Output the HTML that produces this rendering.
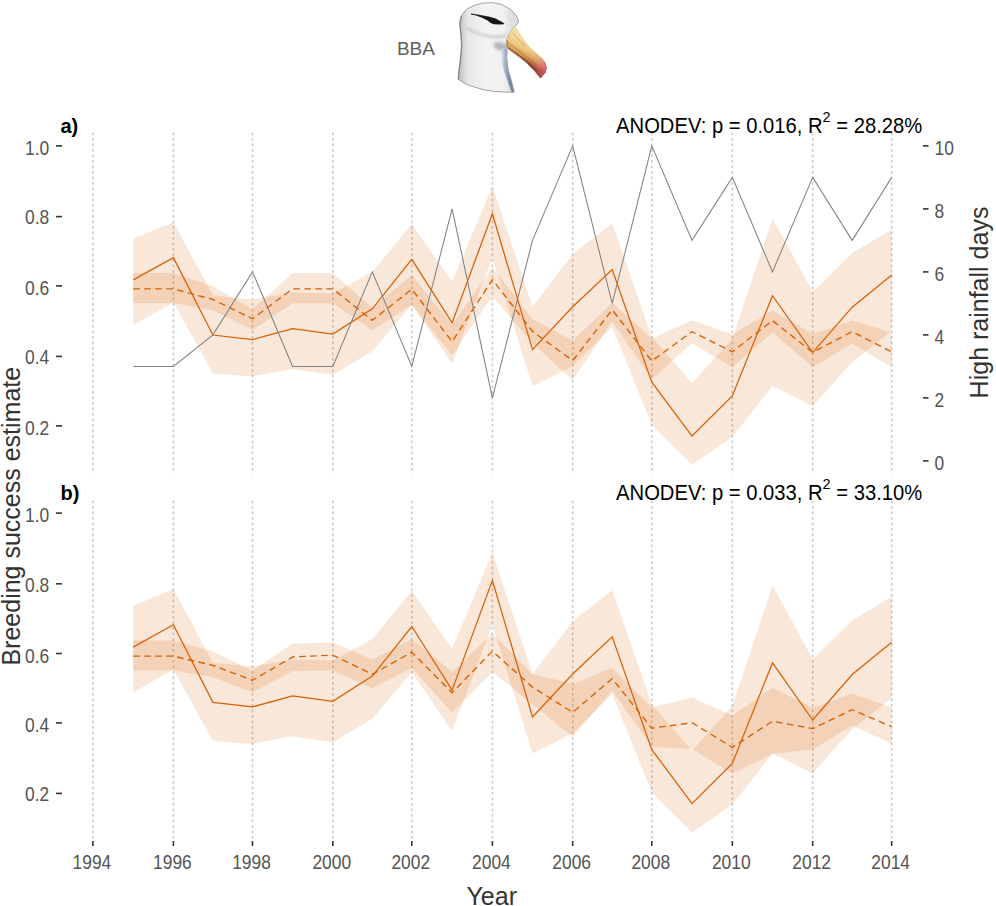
<!DOCTYPE html>
<html><head><meta charset="utf-8"><style>
html,body{margin:0;padding:0;background:#fff;overflow:hidden;width:996px;height:906px;}
svg{display:block;font-family:"Liberation Sans",sans-serif;}
</style></head><body>
<svg width="996" height="906" viewBox="0 0 996 906">
<g stroke="#cbcbcb" stroke-width="1.6" stroke-dasharray="2.7,2.8"><line x1="92.9" y1="132.6" x2="92.9" y2="474"/><line x1="173.4" y1="132.6" x2="173.4" y2="474"/><line x1="252.5" y1="132.6" x2="252.5" y2="474"/><line x1="332.8" y1="132.6" x2="332.8" y2="474"/><line x1="411.8" y1="132.6" x2="411.8" y2="474"/><line x1="492.4" y1="132.6" x2="492.4" y2="474"/><line x1="572.7" y1="132.6" x2="572.7" y2="474"/><line x1="651.8" y1="132.6" x2="651.8" y2="474"/><line x1="732.3" y1="132.6" x2="732.3" y2="474"/><line x1="812.7" y1="132.6" x2="812.7" y2="474"/><line x1="891.7" y1="132.6" x2="891.7" y2="474"/></g>
<g stroke="#cbcbcb" stroke-width="1.6" stroke-dasharray="2.7,2.8"><line x1="92.9" y1="500.5" x2="92.9" y2="841"/><line x1="173.4" y1="500.5" x2="173.4" y2="841"/><line x1="252.5" y1="500.5" x2="252.5" y2="841"/><line x1="332.8" y1="500.5" x2="332.8" y2="841"/><line x1="411.8" y1="500.5" x2="411.8" y2="841"/><line x1="492.4" y1="500.5" x2="492.4" y2="841"/><line x1="572.7" y1="500.5" x2="572.7" y2="841"/><line x1="651.8" y1="500.5" x2="651.8" y2="841"/><line x1="732.3" y1="500.5" x2="732.3" y2="841"/><line x1="812.7" y1="500.5" x2="812.7" y2="841"/><line x1="891.7" y1="500.5" x2="891.7" y2="841"/></g>
<polygon points="133.2,238.8 173.4,221.9 212.9,295.6 252.5,299.4 292.6,292.4 332.8,293.4 372.3,271.7 411.8,224.1 452.1,281.6 492.4,186.6 532.5,306.6 572.7,254.1 612.2,223.2 651.8,337 692,383.3 732.3,338.5 772.5,218.6 812.7,291.8 852.2,253.1 891.7,229.7 891.7,331 852.2,361.9 812.7,406 772.5,386.1 732.3,437 692,464.7 651.8,425 612.2,326.8 572.7,366.2 532.5,386 492.4,257.6 452.1,363.7 411.8,304.7 372.3,351.3 332.8,374.8 292.6,368.9 252.5,376.4 212.9,373.6 173.4,302.3 133.2,325.2" fill="#D95F02" fill-opacity="0.15"/>
<polygon points="133.2,273.1 173.4,273.1 212.9,286.3 252.5,309.3 292.6,273.1 332.8,273.1 372.3,308 411.8,274.9 452.1,325.1 492.4,267.5 532.5,319.2 572.7,340.8 612.2,302.8 651.8,338.6 692,320.2 732.3,334.5 772.5,310.6 812.7,334.1 852.2,320.5 891.7,332.5 891.7,367.3 852.2,343.4 812.7,367.3 772.5,332.5 732.3,367.2 692,343.2 651.8,379.6 612.2,321.4 572.7,380 532.5,343.6 492.4,296.2 452.1,355.5 411.8,304.7 372.3,330.4 332.8,303.3 292.6,303.3 252.5,330.1 212.9,310.3 173.4,302.9 133.2,302.9" fill="#D95F02" fill-opacity="0.15"/>
<polyline points="133.2,279.9 173.4,257.7 212.9,335 252.5,339.5 292.6,328.7 332.8,334.1 372.3,308.8 411.8,259.4 452.1,322.9 492.4,213.8 532.5,349.6 572.7,306.7 612.2,269.6 651.8,382.1 692,436 732.3,396 772.5,295.7 812.7,352.6 852.2,307.2 891.7,275" fill="none" stroke="#D95F02" stroke-width="1.25"/>
<polyline points="133.2,288.8 173.4,288.8 212.9,299.5 252.5,318.8 292.6,288.8 332.8,288.8 372.3,320.4 411.8,289.2 452.1,341.7 492.4,279.6 532.5,331.4 572.7,360.6 612.2,309.8 651.8,361 692,331.7 732.3,351.8 772.5,320.6 812.7,352.3 852.2,331.6 891.7,351.9" fill="none" stroke="#D95F02" stroke-width="1.35" stroke-dasharray="6.6,4.4"/>
<polyline points="133.2,366.4 173.4,366.4 212.9,334.9 252.5,271.9 292.6,366.4 332.8,366.4 372.3,271.9 411.8,366.4 452.1,208.9 492.4,397.9 532.5,240.4 572.7,145.9 612.2,303.4 651.8,145.9 692,240.4 732.3,177.4 772.5,271.9 812.7,177.4 852.2,240.4 891.7,177.4" fill="none" stroke="#828282" stroke-width="1.05"/>
<polygon points="133.2,605.9 173.4,588.9 212.9,662.8 252.5,666.6 292.6,659.6 332.8,660.6 372.3,638.9 411.8,591.1 452.1,648.8 492.4,552.6 532.5,673.9 572.7,621.2 612.2,590.2 651.8,704.3 692,750.8 732.3,705.9 772.5,585.6 812.7,659 852.2,620.2 891.7,596.7 891.7,698.3 852.2,729.3 812.7,773.5 772.5,753.6 732.3,804.6 692,832.4 651.8,792.6 612.2,694.1 572.7,733.6 532.5,753.5 492.4,624.7 452.1,731.1 411.8,672 372.3,718.7 332.8,742.3 292.6,736.3 252.5,743.9 212.9,741.1 173.4,669.5 133.2,692.5" fill="#D95F02" fill-opacity="0.15"/>
<polygon points="133.2,640.2 173.4,640.6 212.9,651.5 252.5,670.4 292.6,643.5 332.8,642.5 372.3,659.4 411.8,639.3 452.1,671.8 492.4,633.3 532.5,674 572.7,684.1 612.2,667.7 651.8,707.4 692,697.4 732.3,715.6 772.5,687.8 812.7,707.7 852.2,693.4 891.7,707.4 891.7,743.8 852.2,725.6 812.7,749.5 772.5,754 732.3,773.6 692,749 651.8,747.1 612.2,690.5 572.7,737 532.5,704 492.4,672 452.1,712.8 411.8,668.1 372.3,688.2 332.8,670.4 292.6,671.3 252.5,692.2 212.9,677.3 173.4,670.4 133.2,670.4" fill="#D95F02" fill-opacity="0.15"/>
<polyline points="133.2,647.1 173.4,624.8 212.9,702.3 252.5,706.9 292.6,696 332.8,701.4 372.3,676.1 411.8,626.5 452.1,690.2 492.4,580.4 532.5,717 572.7,674 612.2,636.8 651.8,749.6 692,803.6 732.3,763.5 772.5,662.9 812.7,720 852.2,674.5 891.7,642.2" fill="none" stroke="#D95F02" stroke-width="1.25"/>
<polyline points="133.2,656.1 173.4,656.1 212.9,665.4 252.5,680.3 292.6,657 332.8,655.1 372.3,674.3 411.8,652.2 452.1,692.7 492.4,651.2 532.5,687.1 572.7,712.4 612.2,678.6 651.8,728.2 692,722.7 732.3,747.3 772.5,721.2 812.7,728.6 852.2,709.7 891.7,726.7" fill="none" stroke="#D95F02" stroke-width="1.35" stroke-dasharray="6.6,4.4"/>
<g font-size="20" fill="#545454">
<line x1="56" y1="145.9" x2="62" y2="145.9" stroke="#333333" stroke-width="1.6"/><text transform="translate(49.2,154.7) scale(0.87,1)" text-anchor="end">1.0</text><line x1="56" y1="216.6" x2="62" y2="216.6" stroke="#333333" stroke-width="1.6"/><text transform="translate(49.2,224) scale(0.87,1)" text-anchor="end">0.8</text><line x1="56" y1="285.9" x2="62" y2="285.9" stroke="#333333" stroke-width="1.6"/><text transform="translate(49.2,294.5) scale(0.87,1)" text-anchor="end">0.6</text><line x1="56" y1="356.4" x2="62" y2="356.4" stroke="#333333" stroke-width="1.6"/><text transform="translate(49.2,364.2) scale(0.87,1)" text-anchor="end">0.4</text><line x1="56" y1="425.9" x2="62" y2="425.9" stroke="#333333" stroke-width="1.6"/><text transform="translate(49.2,434.8) scale(0.87,1)" text-anchor="end">0.2</text>
<line x1="56" y1="513.1" x2="62" y2="513.1" stroke="#333333" stroke-width="1.6"/><text transform="translate(49.2,522.3) scale(0.87,1)" text-anchor="end">1.0</text><line x1="56" y1="583.8" x2="62" y2="583.8" stroke="#333333" stroke-width="1.6"/><text transform="translate(49.2,591.5) scale(0.87,1)" text-anchor="end">0.8</text><line x1="56" y1="653.5" x2="62" y2="653.5" stroke="#333333" stroke-width="1.6"/><text transform="translate(49.2,662.5) scale(0.87,1)" text-anchor="end">0.6</text><line x1="56" y1="722.9" x2="62" y2="722.9" stroke="#333333" stroke-width="1.6"/><text transform="translate(49.2,731.5) scale(0.87,1)" text-anchor="end">0.4</text><line x1="56" y1="793.4" x2="62" y2="793.4" stroke="#333333" stroke-width="1.6"/><text transform="translate(49.2,801) scale(0.87,1)" text-anchor="end">0.2</text>
<line x1="923" y1="460.9" x2="928.5" y2="460.9" stroke="#333333" stroke-width="1.6"/>
<text transform="translate(934.6,470.2) scale(0.87,1)">0</text>
<line x1="923" y1="397.9" x2="928.5" y2="397.9" stroke="#333333" stroke-width="1.6"/>
<text transform="translate(934.6,407.2) scale(0.87,1)">2</text>
<line x1="923" y1="334.9" x2="928.5" y2="334.9" stroke="#333333" stroke-width="1.6"/>
<text transform="translate(934.6,344.2) scale(0.87,1)">4</text>
<line x1="923" y1="271.9" x2="928.5" y2="271.9" stroke="#333333" stroke-width="1.6"/>
<text transform="translate(934.6,281.2) scale(0.87,1)">6</text>
<line x1="923" y1="208.9" x2="928.5" y2="208.9" stroke="#333333" stroke-width="1.6"/>
<text transform="translate(934.6,218.2) scale(0.87,1)">8</text>
<line x1="923" y1="145.9" x2="928.5" y2="145.9" stroke="#333333" stroke-width="1.6"/>
<text transform="translate(934.6,155.2) scale(0.87,1)">10</text>
<line x1="92.9" y1="841" x2="92.9" y2="846" stroke="#333333" stroke-width="1.6"/>
<text transform="translate(91.9,868.8) scale(0.87,1)" text-anchor="middle">1994</text>
<line x1="173.4" y1="841" x2="173.4" y2="846" stroke="#333333" stroke-width="1.6"/>
<text transform="translate(172.4,868.8) scale(0.87,1)" text-anchor="middle">1996</text>
<line x1="252.5" y1="841" x2="252.5" y2="846" stroke="#333333" stroke-width="1.6"/>
<text transform="translate(251.5,868.8) scale(0.87,1)" text-anchor="middle">1998</text>
<line x1="332.8" y1="841" x2="332.8" y2="846" stroke="#333333" stroke-width="1.6"/>
<text transform="translate(331.8,868.8) scale(0.87,1)" text-anchor="middle">2000</text>
<line x1="411.8" y1="841" x2="411.8" y2="846" stroke="#333333" stroke-width="1.6"/>
<text transform="translate(410.8,868.8) scale(0.87,1)" text-anchor="middle">2002</text>
<line x1="492.4" y1="841" x2="492.4" y2="846" stroke="#333333" stroke-width="1.6"/>
<text transform="translate(491.4,868.8) scale(0.87,1)" text-anchor="middle">2004</text>
<line x1="572.7" y1="841" x2="572.7" y2="846" stroke="#333333" stroke-width="1.6"/>
<text transform="translate(571.7,868.8) scale(0.87,1)" text-anchor="middle">2006</text>
<line x1="651.8" y1="841" x2="651.8" y2="846" stroke="#333333" stroke-width="1.6"/>
<text transform="translate(650.8,868.8) scale(0.87,1)" text-anchor="middle">2008</text>
<line x1="732.3" y1="841" x2="732.3" y2="846" stroke="#333333" stroke-width="1.6"/>
<text transform="translate(731.3,868.8) scale(0.87,1)" text-anchor="middle">2010</text>
<line x1="812.7" y1="841" x2="812.7" y2="846" stroke="#333333" stroke-width="1.6"/>
<text transform="translate(811.7,868.8) scale(0.87,1)" text-anchor="middle">2012</text>
<line x1="891.7" y1="841" x2="891.7" y2="846" stroke="#333333" stroke-width="1.6"/>
<text transform="translate(890.7,868.8) scale(0.87,1)" text-anchor="middle">2014</text>
</g>
<text x="491.7" y="905" font-size="25" fill="#333" text-anchor="middle">Year</text>
<text transform="translate(20.4,516.2) rotate(-90)" font-size="25" fill="#333" text-anchor="middle">Breeding success estimate</text>
<text transform="translate(988.3,302.5) rotate(-90)" font-size="25" fill="#333" text-anchor="middle">High rainfall days</text>
<text x="60.5" y="132.5" font-size="20" font-weight="bold" fill="#000">a)</text>
<text x="60.5" y="500" font-size="20" font-weight="bold" fill="#000">b)</text>
<text transform="translate(922.2,132.7) scale(0.94,1)" font-size="21.5" fill="#000" text-anchor="end">ANODEV: p = 0.016, R<tspan dy="-11" font-size="15.5">2</tspan><tspan dy="11"> = 28.28%</tspan></text>
<text transform="translate(922.2,500.3) scale(0.94,1)" font-size="21.5" fill="#000" text-anchor="end">ANODEV: p = 0.033, R<tspan dy="-11" font-size="15.5">2</tspan><tspan dy="11"> = 33.10%</tspan></text>
<text x="396.9" y="54.6" font-size="19" fill="#606060">BBA</text>
<defs>
<linearGradient id="hg" x1="458" y1="0" x2="512" y2="0" gradientUnits="userSpaceOnUse">
<stop offset="0" stop-color="#bdbdbd"/><stop offset="0.18" stop-color="#e6e6e6"/><stop offset="0.5" stop-color="#f4f4f4"/><stop offset="0.85" stop-color="#f0f0f0"/><stop offset="1" stop-color="#dedede"/>
</linearGradient>
<linearGradient id="bg" x1="530" y1="44" x2="521" y2="61" gradientUnits="userSpaceOnUse">
<stop offset="0" stop-color="#f2dc9c"/><stop offset="0.4" stop-color="#ebc57a"/><stop offset="0.7" stop-color="#d49a55"/><stop offset="0.88" stop-color="#a85e34"/><stop offset="1" stop-color="#6e3218"/>
</linearGradient>
<linearGradient id="tg" x1="528" y1="58" x2="546" y2="70" gradientUnits="userSpaceOnUse">
<stop offset="0" stop-color="#e07a78" stop-opacity="0"/><stop offset="0.6" stop-color="#e07078" stop-opacity="0.45"/><stop offset="1" stop-color="#d9566c" stop-opacity="0.85"/>
</linearGradient>
<linearGradient id="ng" x1="499" y1="62" x2="510" y2="62" gradientUnits="userSpaceOnUse">
<stop offset="0" stop-color="#ffffff" stop-opacity="0"/><stop offset="0.45" stop-color="#b4bfce"/><stop offset="1" stop-color="#7488a6"/>
</linearGradient>
<filter id="bl" x="-10%" y="-10%" width="120%" height="120%"><feGaussianBlur stdDeviation="0.5"/></filter>
<filter id="bl2" x="-30%" y="-30%" width="160%" height="160%"><feGaussianBlur stdDeviation="1.5"/></filter>
</defs>
<g filter="url(#bl)">
<path d="M515.2,26 L517.6,23.6 L518.4,20.8 L516.2,15.4 L510.6,9.4 L502.2,4.6 L492.4,2.6 L482.5,3.2 L474.1,5.4 L466.6,9.2 L461.6,15.2 L459.7,22.2 L460.2,28.6 L461.2,36 L461.8,45 L461,55 L459,70.1 L458,79.2 L467,84.6 L482.1,89.4 L492.2,91.2 L505.2,92.2 L514.2,92.2 L511.2,80.2 L508.2,70.1 L506.7,58.1 L507,52 L506.3,46.5 L506.6,39.9 L509.3,33.9 L511.9,29.9 Z" fill="url(#hg)" stroke="#8c8c8c" stroke-width="0.8"/>
<path d="M461.3,16 L460,24 L460.8,34 L461.6,46 L460.6,58 L459,72 L458.5,79" fill="none" stroke="#777" stroke-width="1.3" opacity="0.7"/>
<path d="M467,28 C473,32 481,35 490,36.5 C497,37.5 503,36.5 506,35" fill="none" stroke="#bdbdbd" stroke-width="2" filter="url(#bl2)"/>
<path d="M494,43 C498,41 503,42 507,44.5 L507,52 C503,52 498,50 494,48 Z" fill="#b4b9c0" filter="url(#bl2)"/>
<path d="M497.5,50 L506.3,47 L507,52 L506.7,58.1 L508.2,70.1 L511.2,80.2 L514.2,92.2 L511.5,92 L505,74 L500.5,60 Z" fill="url(#ng)"/>
<path d="M471,13.6 L480.1,15.0 L488.5,16.6 L495.6,18.6 L501.2,21.4 L504.4,23.6 L504,24.3 L498.5,24.6 L494,24.2 L490.6,23.0 L487.6,20.6 L481.5,17.5 L475.2,15.3 L471,14.4 Z" fill="#181818"/>
<path d="M471,13.8 L480,15.4 L487,17.2" fill="none" stroke="#7a2a2a" stroke-width="0.6" opacity="0.6"/>
<path d="M515.2,26 L519.9,33.2 L525.2,41.2 L530.5,47.8 L537.1,53.8 L542.4,58.4 L545.7,63 L546.7,67.7 L545.7,72.3 L542.4,76.3 L540.4,78.3 L534.4,71 L526.5,63 L519.9,57.7 L513.2,53.1 L507.9,49.1 L506.3,46.5 L506.6,39.9 L509.3,33.9 L511.9,29.9 Z" fill="url(#bg)"/>
<path d="M515.2,26 L519.9,33.2 L525.2,41.2 L530.5,47.8 L537.1,53.8 L542.4,58.4 L545.7,63 L546.7,67.7 L545.7,72.3 L542.4,76.3 L540.4,78.3 L534.4,71 L526.5,63 L519.9,57.7 L513.2,53.1 L507.9,49.1 L506.3,46.5 L506.6,39.9 L509.3,33.9 L511.9,29.9 Z" fill="url(#tg)"/>
<path d="M508,47.5 C515,52.5 524,58.5 532,65.5 C536,69.5 539,73.5 541,77.5" fill="none" stroke="#6a3018" stroke-width="1" opacity="0.75"/>
<path d="M509,43.5 C517,49.5 526,56 534,62.5 C538,66.5 541,70.5 543,74.5" fill="none" stroke="#9a4a28" stroke-width="0.7" opacity="0.6"/>
<path d="M513,33 C517,38 521,42 525,46" fill="none" stroke="#cf5a50" stroke-width="0.8" opacity="0.55"/>
<path d="M507.5,40 L507.5,47" fill="none" stroke="#6a4a30" stroke-width="0.8" opacity="0.6"/>
</g>

</svg>
</body></html>
